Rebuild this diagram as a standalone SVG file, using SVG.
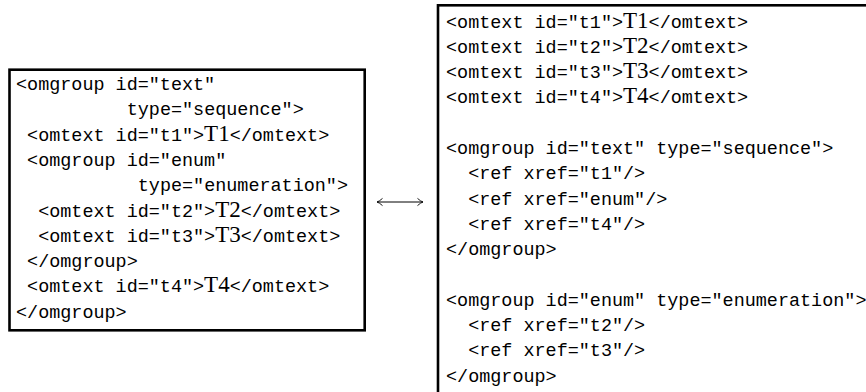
<svg xmlns="http://www.w3.org/2000/svg" width="866" height="392" viewBox="0 0 866 392">
  <defs>
    <style>
      .box{fill:#fff;stroke:#000;stroke-width:2.6}
      .code{font-family:"Liberation Mono","DejaVu Sans Mono",monospace;font-size:18.45px;fill:#000}
      .rm{font-family:"Liberation Serif","DejaVu Serif",serif;font-size:23px}
      .link{stroke:#000;stroke-width:1;fill:none}
    </style>
    <!-- thin curved arrow tip, typeset style -->
    <marker id="tip" viewBox="-7 -5 9 10" refX="0" refY="0" markerWidth="9" markerHeight="10" markerUnits="userSpaceOnUse" orient="auto-start-reverse">
      <path d="M-5.5,-3.6 Q-2.2,-0.6 0,0 Q-2.2,0.6 -5.5,3.6" fill="none" stroke="#000" stroke-width="0.9"/>
    </marker>
  </defs>

  <!-- nested form: omgroup elements containing omtext children -->
  <g id="nested-form">
    <rect class="box" x="9.5" y="69.7" width="355.2" height="260.6"/>
    <text class="code">
      <tspan x="16" y="90">&lt;omgroup id="text"</tspan>
      <tspan x="126.7" y="115.3">type="sequence"&gt;</tspan>
      <tspan x="27.07" y="140.6">&lt;omtext id="t1"&gt;<tspan class="rm">T1</tspan>&lt;/omtext&gt;</tspan>
      <tspan x="27.07" y="165.9">&lt;omgroup id="enum"</tspan>
      <tspan x="137.77" y="191.2">type="enumeration"&gt;</tspan>
      <tspan x="38.14" y="216.5">&lt;omtext id="t2"&gt;<tspan class="rm">T2</tspan>&lt;/omtext&gt;</tspan>
      <tspan x="38.14" y="241.8">&lt;omtext id="t3"&gt;<tspan class="rm">T3</tspan>&lt;/omtext&gt;</tspan>
      <tspan x="27.07" y="267.1">&lt;/omgroup&gt;</tspan>
      <tspan x="27.07" y="292.4">&lt;omtext id="t4"&gt;<tspan class="rm">T4</tspan>&lt;/omtext&gt;</tspan>
      <tspan x="16" y="317.7">&lt;/omgroup&gt;</tspan>
    </text>
  </g>

  <!-- flat form: omtext elements plus omgroups of ref pointers -->
  <g id="flat-form">
    <rect class="box" x="438" y="5.3" width="500" height="500"/>
    <text class="code">
      <tspan x="446" y="27.5">&lt;omtext id="t1"&gt;<tspan class="rm">T1</tspan>&lt;/omtext&gt;</tspan>
      <tspan x="446" y="52.8">&lt;omtext id="t2"&gt;<tspan class="rm">T2</tspan>&lt;/omtext&gt;</tspan>
      <tspan x="446" y="78.1">&lt;omtext id="t3"&gt;<tspan class="rm">T3</tspan>&lt;/omtext&gt;</tspan>
      <tspan x="446" y="103.4">&lt;omtext id="t4"&gt;<tspan class="rm">T4</tspan>&lt;/omtext&gt;</tspan>
      <tspan x="446" y="154">&lt;omgroup id="text" type="sequence"&gt;</tspan>
      <tspan x="468.14" y="179.3">&lt;ref xref="t1"/&gt;</tspan>
      <tspan x="468.14" y="204.6">&lt;ref xref="enum"/&gt;</tspan>
      <tspan x="468.14" y="229.9">&lt;ref xref="t4"/&gt;</tspan>
      <tspan x="446" y="255.2">&lt;/omgroup&gt;</tspan>
      <tspan x="446" y="305.8">&lt;omgroup id="enum" type="enumeration"&gt;</tspan>
      <tspan x="468.14" y="331.1">&lt;ref xref="t2"/&gt;</tspan>
      <tspan x="468.14" y="356.4">&lt;ref xref="t3"/&gt;</tspan>
      <tspan x="446" y="381.7">&lt;/omgroup&gt;</tspan>
    </text>
  </g>

  <!-- equivalence between the two forms -->
  <g id="connectors">
    <line class="link" x1="377" y1="202" x2="423" y2="202" marker-start="url(#tip)" marker-end="url(#tip)"/>
  </g>
</svg>
